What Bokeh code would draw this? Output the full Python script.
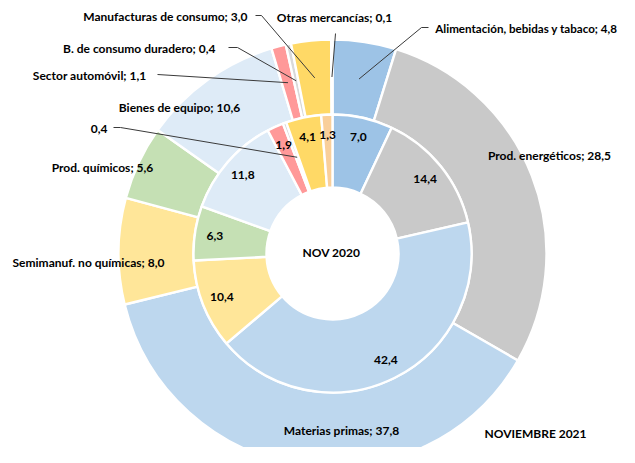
import math
from bokeh.plotting import figure
from bokeh.models import ColumnDataSource, Range1d
from bokeh.core.properties import value
from bokeh.embed import file_html
from bokeh.resources import INLINE

# ---------------- data ----------------
categories = ["Alimentación, bebidas y tabaco", "Prod. energéticos", "Materias primas",
              "Semimanuf. no químicas", "Prod. químicos", "Bienes de equipo",
              "Sector automóvil", "B. de consumo duradero", "Manufacturas de consumo",
              "Otras mercancías"]
nov2021 = [4.8, 28.5, 37.8, 8.0, 5.6, 10.6, 1.1, 0.4, 3.0, 0.1]
nov2020 = [7.0, 14.4, 42.4, 10.4, 6.3, 11.8, 1.9, 0.4, 4.1, 1.3]
colors = ["#9DC3E6", "#C9C9C9", "#BDD7EE", "#FFE699", "#C5E0B4", "#DEEBF7",
          "#FF9999", "#D9D9D9", "#FFD966", "#F9CF9A"]
inner_title = "NOV 2020"
outer_title = "NOVIEMBRE 2021"

# ---------------- layout ----------------
CX, CY = 332, 253            # donut centre in picture pixels
R_HOLE, R_MID, R_OUT = 66, 139, 214
W, H = 619, 447
FONT = value("Lato")
FS = "12px"
TXT = "#000000"
LEAD = "#3a3a3a"


def P(px, py):
    return px - CX, CY - py


def fmt(v):
    return ("%.1f" % v).replace(".", ",")


def ring(vals):
    total = sum(vals)
    cum = 0.0
    st, en, mid = [], [], []
    for v in vals:
        a0 = cum / total
        cum += v
        a1 = cum / total
        st.append(math.pi / 2 - 2 * math.pi * a1)
        en.append(math.pi / 2 - 2 * math.pi * a0)
        mid.append(math.pi / 2 - math.pi * (a0 + a1))
    return st, en, mid


p = figure(width=W, height=H, output_backend="svg", toolbar_location=None,
           x_range=Range1d(-CX, W - CX), y_range=Range1d(CY - H, CY),
           min_border=0)
p.axis.visible = False
p.grid.visible = False
p.outline_line_color = None
p.background_fill_color = "white"

st_o, en_o, mid_o = ring(nov2021)
st_i, en_i, mid_i = ring(nov2020)

src_o = ColumnDataSource(dict(start=st_o, end=en_o, color=colors))
src_i = ColumnDataSource(dict(start=st_i, end=en_i, color=colors))
p.annular_wedge(x=0, y=0, inner_radius=R_MID, outer_radius=R_OUT, start_angle="start",
                end_angle="end", fill_color="color", line_color="white", line_width=2.4,
                source=src_o)
p.annular_wedge(x=0, y=0, inner_radius=R_HOLE, outer_radius=R_MID, start_angle="start",
                end_angle="end", fill_color="color", line_color="white", line_width=2.4,
                source=src_i)

# inner ring labels (in slice)
R_LAB = 119
lx, ly, lt = [], [], []
for i, v in enumerate(nov2020):
    if i == 7:
        continue
    lx.append(R_LAB * math.cos(mid_i[i]))
    ly.append(R_LAB * math.sin(mid_i[i]))
    lt.append(fmt(v))
p.text(x=lx, y=ly, text=lt, text_font=FONT, text_font_size=FS, text_font_style="bold",
       text_color=TXT, text_align="center", text_baseline="middle")

# centroid helpers for leader lines
R_CO = (R_MID + R_OUT) / 2
R_CI = (R_HOLE + R_MID) / 2


def cen_o(i):
    return R_CO * math.cos(mid_o[i]), R_CO * math.sin(mid_o[i])


def cen_i(i):
    return R_CI * math.cos(mid_i[i]), R_CI * math.sin(mid_i[i])


# outer labels: (index, picture x, picture y, align, font size)
outer_layout = {
    0: (617, 28, "right", "11.6px"),
    1: (549, 155, "center", FS),
    2: (341, 430, "center", FS),
    3: (88, 262, "center", FS),
    4: (102, 167, "center", FS),
    5: (179, 107, "center", FS),
    6: (146, 75, "right", FS),
    7: (215, 48, "right", FS),
    8: (247, 16, "right", FS),
    9: (334, 17, "center", FS),
}
for i, (px, py, al, fs) in outer_layout.items():
    x, y = P(px, py)
    p.text(x=[x], y=[y], text=["%s; %s" % (categories[i], fmt(nov2021[i]))],
           text_font=FONT, text_font_size=fs, text_font_style="bold", text_color=TXT,
           text_align=al, text_baseline="middle")

# leader lines: picture points, ending at the slice centroid
leaders_o = {
    0: [(428, 27), (421, 27)],
    6: [(157, 74)],
    7: [(228, 47), (237, 47)],
    8: [(255, 15), (261, 15)],
    9: [(335, 33)],
}
for i, pts in leaders_o.items():
    xs = [P(a, b)[0] for a, b in pts]
    ys = [P(a, b)[1] for a, b in pts]
    cx, cy = cen_o(i)
    p.line(xs + [cx], ys + [cy], line_color=LEAD, line_width=1)

# inner 0,4 label with leader
x, y = P(107, 128)
p.text(x=[x], y=[y], text=[fmt(nov2020[7])], text_font=FONT, text_font_size=FS,
       text_font_style="bold", text_color=TXT, text_align="right", text_baseline="middle")
pts = [(113, 127), (120, 127)]
cx, cy = cen_i(7)
p.line([P(a, b)[0] for a, b in pts] + [cx], [P(a, b)[1] for a, b in pts] + [cy],
       line_color=LEAD, line_width=1)

# titles
x, y = P(331, 252)
p.text(x=[x], y=[y], text=[inner_title], text_font=FONT, text_font_size=FS,
       text_font_style="bold", text_color=TXT, text_align="center", text_baseline="middle")
x, y = P(535, 433)
p.text(x=[x], y=[y], text=[outer_title], text_font=FONT, text_font_size=FS,
       text_font_style="bold", text_color=TXT, text_align="center", text_baseline="middle")

open("out.html", "w").write(file_html(p, INLINE))
